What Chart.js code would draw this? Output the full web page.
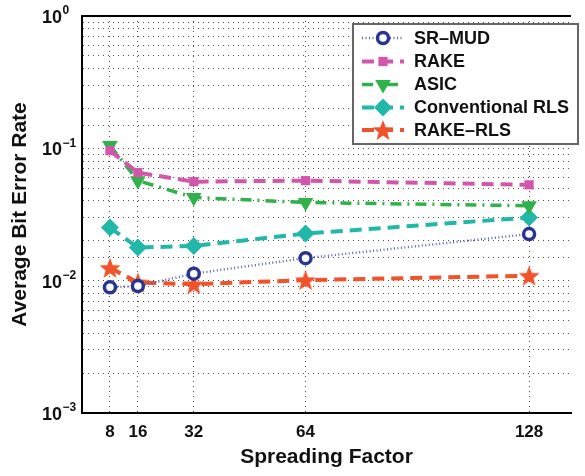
<!DOCTYPE html>
<html>
<head>
<meta charset="utf-8">
<script src="https://cdn.jsdelivr.net/npm/chart.js@4.4.1/dist/chart.umd.min.js"></script>
<style>
  html, body { margin: 0; padding: 0; background: #fff; }
  #wrap { width: 585px; height: 476px; }
</style>
</head>
<body>
<div id="wrap"><canvas id="myChart" width="585" height="476"></canvas></div>
<script>
	// data
	const spreadingFactors = [8, 16, 32, 64, 128];
	const srMud = [0.0089, 0.0091, 0.0113, 0.0148, 0.0225];
	const rake = [0.096, 0.0655, 0.056, 0.057, 0.053];
	const asic = [0.105, 0.057, 0.0425, 0.039, 0.0368];
	const conventionalRls = [0.0252, 0.0178, 0.0183, 0.0227, 0.030];
	const rakeRls = [0.0125, 0.0097, 0.0094, 0.0101, 0.0109];
	const yDecades = [1, 0.1, 0.01, 0.001];
	const yExponents = ['0', '\u22121', '\u22122', '\u22123'];

	const FONT = '"Liberation Sans", Arial, Helvetica, sans-serif';

	// filled five point star for the RAKE-RLS marker
	function makeStar(color, r) {
		const c = document.createElement('canvas');
		const s = Math.ceil(r * 2 + 2);
		c.width = s; c.height = s;
		const g = c.getContext('2d');
		g.beginPath();
		for (let i = 0; i < 10; i++) {
			const rad = i % 2 === 0 ? r : r * 0.42;
			const a = -Math.PI / 2 + i * Math.PI / 5;
			const px = s / 2 + rad * Math.cos(a);
			const py = s / 2 + 1 + rad * Math.sin(a);
			if (i === 0) g.moveTo(px, py); else g.lineTo(px, py);
		}
		g.closePath();
		g.fillStyle = color;
		g.fill();
		return c;
	}
	const starImg = makeStar('#f0522a', 11);

	function pts(arr) {
		return spreadingFactors.map((x, i) => ({ x: x, y: arr[i] }));
	}

	const datasets = [
		{
			label: 'SR\u2013MUD', data: pts(srMud),
			borderColor: '#5a63b8', borderWidth: 2.5, borderDash: [1, 2.5],
			pointStyle: 'circle', pointRadius: 5.5, pointBorderWidth: 3.5,
			pointBorderColor: '#283593', pointBackgroundColor: '#ffffff'
		},
		{
			label: 'RAKE', data: pts(rake),
			borderColor: '#d256ab', borderWidth: 4, borderDash: [12, 7],
			pointStyle: 'rect', pointRadius: 6.5, pointBorderWidth: 0,
			pointBackgroundColor: '#d256ab'
		},
		{
			label: 'ASIC', data: pts(asic),
			borderColor: '#30b24a', borderWidth: 3.5, borderDash: [11, 6, 2, 6],
			pointStyle: 'triangle', rotation: 180, pointRadius: 9, pointBorderWidth: 0,
			pointBackgroundColor: '#30b24a'
		},
		{
			label: 'Conventional RLS', data: pts(conventionalRls),
			borderColor: '#22b8a9', borderWidth: 4, borderDash: [12, 7],
			pointStyle: 'rectRot', pointRadius: 9, pointBorderWidth: 0,
			pointBackgroundColor: '#22b8a9'
		},
		{
			label: 'RAKE\u2013RLS', data: pts(rakeRls),
			borderColor: '#f0522a', borderWidth: 4, borderDash: [12, 7],
			pointStyle: starImg, pointRadius: 10
		}
	];
	datasets.forEach(d => { d.fill = false; d.tension = 0; d.pointHoverRadius = d.pointRadius; });

	// plot frame, y tick labels with superscripts, legend box
	const decorations = {
		id: 'decorations',
		afterDraw(chart) {
			const ctx = chart.ctx;
			const area = chart.chartArea;
			const y = chart.scales.y;
			ctx.save();
			ctx.strokeStyle = '#000';
			ctx.lineWidth = 2;
			ctx.beginPath();
			ctx.moveTo(area.left, area.top);
			ctx.lineTo(area.right, area.top);
			ctx.stroke();

			ctx.fillStyle = '#111';
			yDecades.forEach((v, i) => {
				const py = y.getPixelForValue(v);
				ctx.font = 'bold 18px ' + FONT;
				ctx.textAlign = 'right';
				ctx.textBaseline = 'middle';
				ctx.fillText('10', 62, py + 2);
				ctx.font = 'bold 12px ' + FONT;
				ctx.textAlign = 'left';
				ctx.fillText(yExponents[i], 62.5, py - 5);
			});

			// legend
			const bx = 353, by = 24, bw = 225, bh = 120;
			ctx.fillStyle = '#fff';
			ctx.fillRect(bx, by, bw, bh);
			ctx.strokeStyle = '#666';
			ctx.lineWidth = 2;
			ctx.strokeRect(bx, by, bw, bh);
			const rows = [38, 61.5, 84.5, 107.5, 130];
			chart.data.datasets.forEach((d, i) => {
				const ry = rows[i];
				ctx.save();
				ctx.strokeStyle = d.borderColor;
				ctx.lineWidth = d.borderWidth;
				ctx.setLineDash(d.borderDash);
				ctx.beginPath();
				ctx.moveTo(362, ry);
				ctx.lineTo(404, ry);
				ctx.stroke();
				ctx.restore();
				ctx.save();
				ctx.fillStyle = d.pointBackgroundColor || d.borderColor;
				ctx.strokeStyle = d.pointBorderColor || d.borderColor;
				ctx.lineWidth = d.pointBorderWidth || 0;
				Chart.helpers.drawPoint(ctx, {
					pointStyle: d.pointStyle, rotation: d.rotation || 0,
					radius: d.pointRadius, borderWidth: d.pointBorderWidth || 0
				}, 383, ry);
				ctx.restore();
				ctx.fillStyle = '#111';
				ctx.font = 'bold 18px ' + FONT;
				ctx.textAlign = 'left';
				ctx.textBaseline = 'middle';
				ctx.fillText(d.label, 414, ry + 1);
			});
			ctx.restore();
		}
	};

	const gridStyle = {
		color: 'rgba(0,0,0,0.7)', lineWidth: 1, drawTicks: false
	};

	const config = {
		type: 'line',
		data: { datasets: datasets },
		options: {
			responsive: false,
			animation: false,
			devicePixelRatio: 1,
			layout: { padding: { top: 16, right: 0, left: 0, bottom: 0 } },
			plugins: {
				legend: { display: false },
				tooltip: { enabled: false }
			},
			scales: {
				x: {
					type: 'linear', min: 0, max: 140,
					grid: gridStyle,
					border: { color: '#000', width: 2, dash: [1, 4] },
					afterBuildTicks: (scale) => { scale.ticks = spreadingFactors.map(v => ({ value: v })); },
					afterFit: (scale) => { scale.height = 63; },
					ticks: {
						padding: 9, color: '#111', maxRotation: 0, autoSkip: false,
						font: { family: FONT, size: 17, weight: 'bold' }
					},
					title: {
						display: true, text: 'Spreading Factor', color: '#111',
						font: { family: FONT, size: 21, weight: 'bold' },
						padding: { top: 0, bottom: 6 }
					}
				},
				y: {
					type: 'logarithmic', min: 0.001, max: 1,
					grid: gridStyle,
					border: { color: '#000', width: 2, dash: [1, 4] },
					afterFit: (scale) => { scale.width = 82; },
					ticks: { display: false },
					title: {
						display: true, text: 'Average Bit Error Rate', color: '#111',
						font: { family: FONT, size: 21, weight: 'bold' },
						padding: { top: 8, bottom: 0 }
					}
				}
			}
		},
		plugins: [decorations]
	};

	const myChart = new Chart(document.getElementById('myChart'), config);
</script>
</body>
</html>
